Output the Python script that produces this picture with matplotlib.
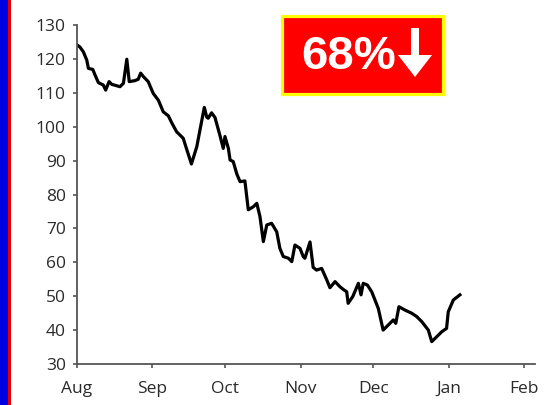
import matplotlib
matplotlib.use('Agg')
import matplotlib.pyplot as plt
from matplotlib.patches import Rectangle, Polygon

# Trace of the price line (days since Aug 1, index value)
days = [0.1, 1.2, 2.6, 4.0, 4.7, 6.5, 7.4, 8.8, 10.8, 11.8, 13.2, 14.3, 17.7, 19.1,
        20.5, 21.5, 23.9, 25.2, 26.2, 27.3, 29.3, 31.4, 33.5, 35.5, 37.6, 39.1, 41.0,
        43.7, 45.3, 47.1, 49.3, 50.6, 52.4, 53.4, 54.0, 55.4, 56.8, 58.8, 60.2, 60.9,
        62.3, 63.0, 64.3, 65.8, 67.1, 69.1, 70.5, 72.6, 74.0, 75.3, 76.7, 78.1, 80.1,
        82.2, 83.5, 84.9, 87.0, 88.4, 89.7, 91.8, 93.1, 93.8, 95.9, 97.2, 98.6, 100.7,
        102.8, 104.1, 106.2, 108.2, 109.6, 111.0, 111.6, 113.5, 115.8, 116.9, 117.8,
        119.5, 121.3, 124.0, 126.0, 128.1, 130.2, 131.2, 132.5, 135.0, 137.7, 139.8,
        141.9, 144.6, 146.0, 148.0, 150.1, 152.1, 152.8, 154.9, 157.6]
values = [124.1, 123.5, 122.1, 119.7, 117.2, 116.9, 115.3, 113.0, 112.3, 110.8, 113.3,
          112.5, 111.8, 112.8, 119.9, 113.3, 113.6, 114.0, 115.8, 114.8, 113.3, 109.8,
          107.8, 104.4, 103.2, 101.0, 98.5, 96.6, 93.0, 89.0, 94.1, 99.0, 105.7, 102.8,
          102.5, 104.1, 102.7, 97.5, 93.6, 97.1, 93.6, 90.2, 89.7, 86.0, 83.8, 84.0,
          75.5, 76.4, 77.4, 73.5, 66.1, 71.0, 71.5, 69.0, 64.1, 61.7, 61.2, 60.2, 65.1,
          64.1, 61.7, 61.2, 66.0, 58.5, 57.7, 58.2, 54.8, 52.5, 54.3, 52.8, 52.0, 51.3,
          47.9, 49.9, 53.8, 50.4, 53.8, 53.3, 51.3, 46.4, 40.0, 41.5, 43.0, 42.0, 46.9,
          45.9, 45.0, 44.0, 42.5, 40.0, 36.6, 38.0, 39.5, 40.5, 45.4, 48.9, 50.4]

month_days = [0, 31, 61, 92, 122, 153, 184]
month_labels = ['Aug', 'Sep', 'Oct', 'Nov', 'Dec', 'Jan', 'Feb']
y_ticks = list(range(30, 131, 10))
badge_text = '68%'

plt.rcParams['font.family'] = ['Open Sans', 'DejaVu Sans']

fig = plt.figure(figsize=(5.54, 4.05), dpi=100)
ax = fig.add_axes([77 / 554, 1 - 364 / 405, (535 - 77) / 554, (364 - 25) / 405])

ax.plot(days, values, color='black', linewidth=2.3, solid_joinstyle='round')
ax.set_xlim(0, 188.5)
ax.set_ylim(30, 130)
ax.set_xticks(month_days)
ax.set_xticklabels(month_labels)
ax.set_yticks(y_ticks)
for s in ['top', 'right']:
    ax.spines[s].set_visible(False)
for s in ['left', 'bottom']:
    ax.spines[s].set_color('#555555')
    ax.spines[s].set_linewidth(1.3)
ax.tick_params(direction='out', length=3, width=1.2, color='#555555',
               labelsize=12.5, labelcolor='#2a2a2a', pad=5)
ax.tick_params(axis='x', pad=9)

# overlay in pixel coordinates for the decorations
ov = fig.add_axes([0, 0, 1, 1], zorder=5)
ov.set_xlim(0, 554)
ov.set_ylim(405, 0)
ov.axis('off')
ov.patch.set_alpha(0)

ov.add_patch(Rectangle((0, 0), 7.5, 405, facecolor='#0000e0', edgecolor='none'))
ov.add_patch(Rectangle((7.5, 0), 3.5, 405, facecolor='#e00000', edgecolor='none'))

ov.add_patch(Rectangle((281.5, 15.5), 161, 78, facecolor='#ff0000',
                       edgecolor='#ffff00', linewidth=2.3))
ov.text(349, 57, badge_text, color='white', fontsize=34, fontweight='bold',
        family='Liberation Sans', ha='center', va='center')
ov.add_patch(Polygon([(411, 28), (419, 28), (419, 55), (432, 55), (415, 77),
                      (398, 55), (411, 55)], closed=True, facecolor='white',
                     edgecolor='none'))

fig.savefig('out.png', dpi=100)
